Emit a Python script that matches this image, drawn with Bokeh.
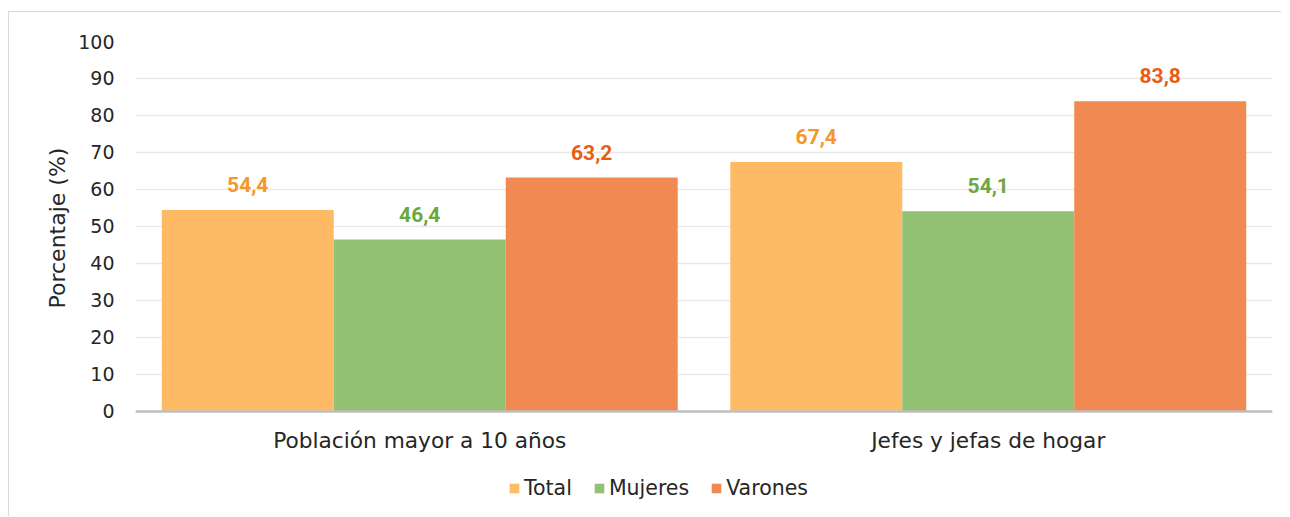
from bokeh.plotting import figure
from bokeh.models import (FactorRange, Range1d, ColumnDataSource, LabelSet, Legend,
                          LegendItem, FixedTicker, Title)
from bokeh.core.properties import value
from bokeh.transform import dodge
from bokeh.embed import file_html
from bokeh.resources import INLINE

categories = ["Población mayor a 10 años", "Jefes y jefas de hogar"]
series_names = ["Total", "Mujeres", "Varones"]
total = [54.4, 67.4]
mujeres = [46.4, 54.1]
varones = [63.2, 83.8]
y_ticks = [0, 10, 20, 30, 40, 50, 60, 70, 80, 90, 100]

bar_colors = ["#FFBA66", "#93C174", "#F08952"]
label_colors = ["#F7962A", "#6AA840", "#E85C14"]

def fmt(v):
    return f"{v:.1f}".replace(".", ",")

source = ColumnDataSource(data=dict(
    cat=categories,
    Total=total, Mujeres=mujeres, Varones=varones,
    Total_lbl=[fmt(v) for v in total],
    Mujeres_lbl=[fmt(v) for v in mujeres],
    Varones_lbl=[fmt(v) for v in varones],
))

FONT = "DejaVu Sans"

# the frame reaches the bottom of the canvas so the legend can sit inside it;
# the category axis is pinned at y = 0
p = figure(x_range=FactorRange(*categories, range_padding=0), y_range=Range1d(-28.8, 100),
           width=1273, height=505, output_backend="svg", toolbar_location=None,
           min_border_left=126, min_border_right=10, min_border_top=29, min_border_bottom=0,
           margin=(11, 0, 0, 8),
           styles={"border-top": "1px solid #d9d9d9", "border-left": "1px solid #d9d9d9"})
p.outline_line_color = None
p.background_fill_color = "white"

bw = 0.3025
offsets = [-bw, 0.0, bw]
items = []
for name, off, col, lcol in zip(series_names, offsets, bar_colors, label_colors):
    r = p.vbar(x=dodge("cat", off, range=p.x_range), top=name, width=bw, source=source,
               fill_color=col, line_color=None)
    items.append(LegendItem(label=name, renderers=[r]))
    labels = LabelSet(x=dodge("cat", off, range=p.x_range), y=name, text=name + "_lbl",
                      source=source, text_align="center", text_baseline="alphabetic",
                      y_offset=18, text_font=value("Roboto"), text_font_style="bold",
                      text_font_size="21px", text_color=lcol)
    p.add_layout(labels)

# axes
p.yaxis.ticker = FixedTicker(ticks=y_ticks)
p.yaxis.axis_line_color = None
p.yaxis.major_tick_line_color = None
p.yaxis.minor_tick_line_color = None
p.yaxis.major_tick_out = 0
p.yaxis.major_tick_in = 0
p.yaxis.minor_tick_out = 0
p.yaxis.major_label_standoff = 21
p.yaxis.major_label_text_font = FONT
p.yaxis.major_label_text_font_size = "19px"
p.yaxis.major_label_text_color = "#262626"

ytitle = Title(text="Porcentaje (%)", align="left", offset=209, standoff=12,
               text_font=FONT, text_font_size="22px", text_font_style="normal",
               text_color="#262626")
p.add_layout(ytitle, "left")

p.xaxis.fixed_location = 0
p.xaxis.axis_line_color = "#bfbfbf"
p.xaxis.axis_line_width = 2.5
p.xaxis.major_tick_line_color = None
p.xaxis.minor_tick_line_color = None
p.xaxis.major_tick_out = 0
p.xaxis.major_tick_in = 0
p.xaxis.minor_tick_out = 0
p.xaxis.major_label_standoff = 17
p.xaxis.major_label_text_font = FONT
p.xaxis.major_label_text_font_size = "21.7px"
p.xaxis.major_label_text_color = "#262626"

p.xgrid.grid_line_color = None
p.ygrid.grid_line_color = "#e9e9e9"
p.ygrid.grid_line_width = 1.5

legend = Legend(items=items, orientation="horizontal", location=(373, 17),
                glyph_width=12, glyph_height=12, label_standoff=4, spacing=21,
                padding=0, margin=0, border_line_color=None, background_fill_alpha=0,
                label_text_font=FONT, label_text_font_size="20.5px",
                label_text_color="#262626")
p.add_layout(legend, "center")

open("out.html", "w").write(file_html(p, INLINE))
